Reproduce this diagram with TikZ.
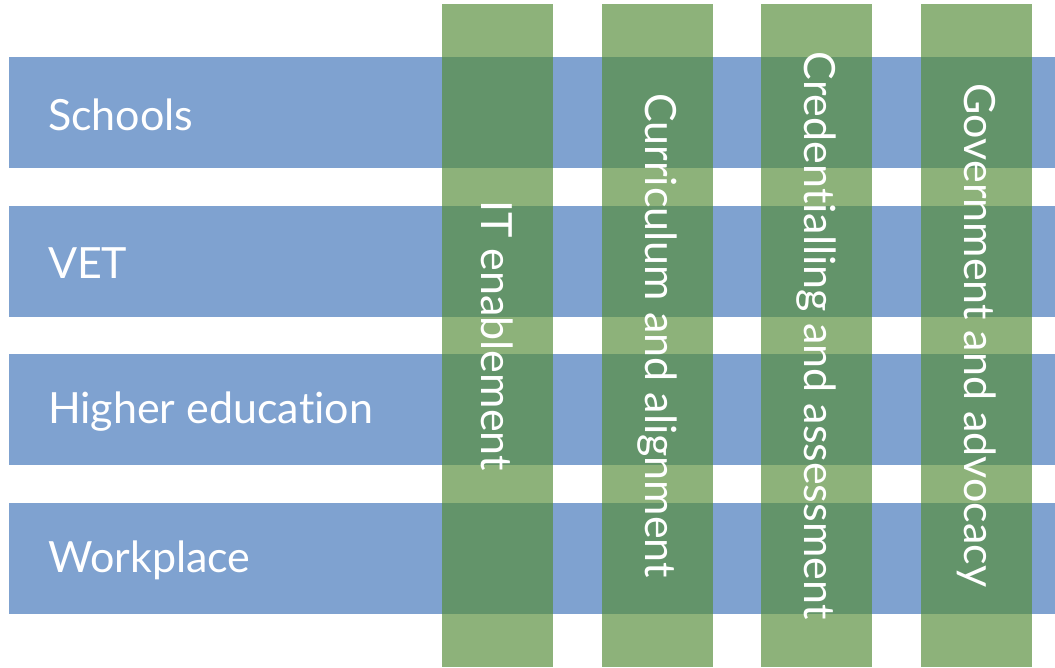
\documentclass[tikz,border=0pt]{standalone}
\usepackage{fontspec}
\setmainfont{Lato}[Ligatures=NoCommon]
\usetikzlibrary{positioning}

\definecolor{rowblue}{RGB}{127,162,208}
\definecolor{colgreen}{RGB}{87,142,59}

\tikzset{
    rowbar/.style={rectangle, fill=rowblue, draw=none, minimum width=1046pt, minimum height=111pt, inner sep=0pt},
    colbar/.style={rectangle, fill=colgreen, fill opacity=0.68, text opacity=1, draw=none, rotate=-90,
        minimum width=663pt, minimum height=111pt, inner sep=0pt, text=white, font=\fontsize{43}{48}\selectfont},
    rowlabel/.style={anchor=west, text=white, inner sep=0pt, font=\fontsize{43}{48}\selectfont}
}

\begin{document}
\begin{tikzpicture}[x=1pt, y=-1pt]
        \useasboundingbox (0,0) rectangle (1055,668);

        % rows
        \foreach \name/\txt [count=\i from 0] in {schools/Schools, vet/VET, higher/Higher education, work/Workplace} {
            \node[rowbar] (\name) at (532, 112.5+148.7*\i) {};
            \node[rowlabel, xshift=39pt, yshift=-2pt] (\name-lbl) at (\name.west) {\txt};
        }

        % columns
        \foreach \name/\txt [count=\i from 0] in {it/IT enablement, curr/Curriculum and alignment, cred/Credentialling and assessment, gov/Government and advocacy} {
            \node[colbar] (\name) at (497.5+159.7*\i, 335.5) {\txt};
        }
    \end{tikzpicture}
\end{document}
